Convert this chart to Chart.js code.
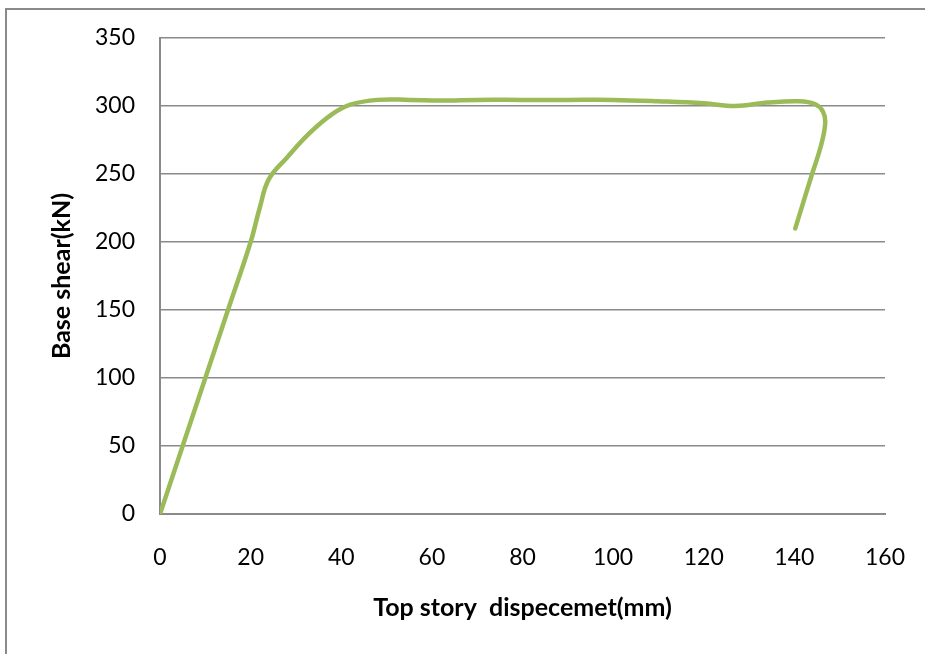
<!DOCTYPE html>
<html>
<head>
<meta charset="utf-8">
<script src="https://cdn.jsdelivr.net/npm/chart.js@4.4.0/dist/chart.umd.min.js"></script>
<style>
    html, body { margin: 0; padding: 0; background: #fff; }
    #wrap { position: relative; width: 925px; height: 654px; }
    #frame { position: absolute; left: 5px; top: 8px; right: 0; bottom: 0; border-left: 2px solid #8a8a8a; border-top: 2px solid #8a8a8a; }
    canvas { position: absolute; left: 0; top: 0; }
</style>
</head>
<body>
<div id="wrap">
    <div id="frame"></div>
    <canvas id="chart" width="925" height="654"></canvas>
</div>
<script>
// pushover curve
const displacement = [0, 5, 10, 15, 20, 22, 24, 28, 33, 38, 42, 48, 55, 62, 70, 80, 90, 100, 110, 120, 127, 134, 141, 144.5, 146.3, 146.8, 145.8, 143.9, 140.2];
const baseShear = [0, 50, 100, 150, 200, 225, 246, 262, 280, 294, 301, 304.5, 304.5, 304, 304.5, 304.5, 304.5, 304.5, 303.5, 302, 300, 302.5, 303.5, 301.5, 296, 287, 270, 250, 210];

const xTicks = [0, 20, 40, 60, 80, 100, 120, 140, 160];
const yTicks = [0, 50, 100, 150, 200, 250, 300, 350];

const points = displacement.map((d, i) => ({ x: d, y: baseShear[i] }));

const tickFont = { family: 'Lato', size: 23 };
const titleFont = { family: 'Lato', size: 25, weight: 'bold' };

const ctx = document.getElementById('chart').getContext('2d');
new Chart(ctx, {
    type: 'scatter',
    data: {
        datasets: [{
            data: points,
            showLine: true,
            borderColor: '#9bbb59',
            borderWidth: 4.5,
            borderCapStyle: 'round',
            tension: 0.4,
            pointRadius: 0,
            fill: false
        }]
    },
    options: {
        responsive: false,
        animation: false,
        layout: { padding: { left: 0, right: 40, top: 38, bottom: 0 } },
        plugins: { legend: { display: false }, tooltip: { enabled: false } },
        scales: {
            x: {
                type: 'linear',
                min: 0,
                max: 160,
                afterBuildTicks: (s) => { s.ticks = xTicks.map(v => ({ value: v })); },
                afterFit: (s) => { s.height = 140; s.paddingLeft = 0; s.paddingRight = 0; },
                grid: { display: false, drawTicks: false },
                border: { display: true, color: '#8a8a8a', width: 2 },
                ticks: { color: '#000', font: tickFont, padding: 30, maxRotation: 0 },
                title: {
                    display: true,
                    text: 'Top story  dispecemet(mm)',
                    color: '#000',
                    font: titleFont,
                    padding: { top: 31, bottom: 31 }
                }
            },
            y: {
                type: 'linear',
                min: 0,
                max: 350,
                afterBuildTicks: (s) => { s.ticks = yTicks.map(v => ({ value: v })); },
                afterFit: (s) => { s.width = 160; s.paddingTop = 0; s.paddingBottom = 0; },
                grid: { color: '#8a8a8a', lineWidth: 1.5, drawTicks: false },
                border: { display: true, color: '#8a8a8a', width: 2 },
                ticks: { color: '#000', font: tickFont, padding: 25 },
                title: {
                    display: true,
                    text: 'Base shear(kN)',
                    color: '#000',
                    font: titleFont,
                    padding: { top: 47, bottom: 47 }
                }
            }
        }
    }
});
</script>
</body>
</html>
